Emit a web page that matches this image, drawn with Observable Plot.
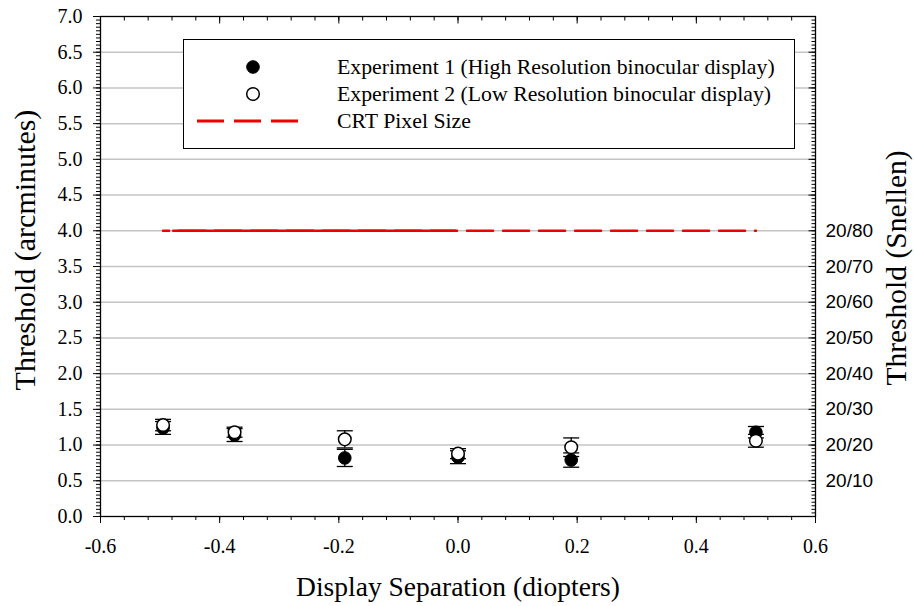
<!DOCTYPE html>
<html>
<head>
<meta charset="utf-8">
<script src="https://cdn.jsdelivr.net/npm/d3@7"></script>
<script src="https://cdn.jsdelivr.net/npm/@observablehq/plot@0.6"></script>
<style>
  html, body { margin: 0; padding: 0; background: #fff; }
  #chart { width: 914px; height: 606px; }
</style>
</head>
<body>
<div id="chart"></div>
<script>
// ---- data ----
const separations = [-0.495, -0.375, -0.19, 0.0, 0.19, 0.5];
const exp1Threshold = [1.24, 1.14, 0.82, 0.83, 0.79, 1.18];
const exp1Error = [0.09, 0.09, 0.12, 0.09, 0.10, 0.08];
const exp2Threshold = [1.28, 1.18, 1.08, 0.88, 0.97, 1.06];
const exp2Error = [0.08, 0.07, 0.12, 0.07, 0.13, 0.09];
const crtPixelSize = 4.0;
const crtRange = [-0.495, 0.5];
const crtOverlapRange = [-0.478, -0.005];

const xMajorTicks = [-0.6, -0.4, -0.2, 0.0, 0.2, 0.4, 0.6];
const yMajorTicks = [0, 0.5, 1, 1.5, 2, 2.5, 3, 3.5, 4, 4.5, 5, 5.5, 6, 6.5, 7];
const gridValues = [0.5, 1, 1.5, 2, 2.5, 3, 3.5, 4, 4.5, 5, 5.5, 6, 6.5];
const snellenValues = [4.0, 3.5, 3.0, 2.5, 2.0, 1.5, 1.0, 0.5];
const snellenLabels = ["20/80", "20/70", "20/60", "20/50", "20/40", "20/30", "20/20", "20/10"];

const legendLabels = [
  "Experiment 1 (High Resolution binocular display)",
  "Experiment 2 (Low Resolution binocular display)",
  "CRT Pixel Size"
];

// ---- derived tables ----
const exp1 = separations.map((x, i) => ({x, y: exp1Threshold[i], e: exp1Error[i]}));
const exp2 = separations.map((x, i) => ({x, y: exp2Threshold[i], e: exp2Error[i]}));
const bars = [...exp1, ...exp2];
const caps = bars.flatMap(d => [{x: d.x, y: d.y - d.e}, {x: d.x, y: d.y + d.e}]);
const crtLine = crtRange.map(x => ({x, y: crtPixelSize}));
const crtOverlap = crtOverlapRange.map(x => ({x, y: crtPixelSize}));
const snellen = snellenValues.map((y, i) => ({y, label: snellenLabels[i]}));
const xMinor = d3.range(-15, 16).map(k => k * 0.04);
const yMinor = d3.range(0, 141).map(k => k * 0.05);

// custom tick symbols (pixel-sized)
const hSeg = (a, b) => ({draw(ctx) { ctx.moveTo(a, 0); ctx.lineTo(b, 0); }});
const vSeg = (a, b) => ({draw(ctx) { ctx.moveTo(0, a); ctx.lineTo(0, b); }});

const serif = "'Liberation Serif', 'Times New Roman', serif";
const sans = "'Liberation Sans', Arial, sans-serif";

const chart = Plot.plot({
  width: 914,
  height: 606,
  marginTop: 16,
  marginRight: 99,
  marginBottom: 90,
  marginLeft: 100,
  style: {fontFamily: serif, fontSize: "20px", background: "#fff", color: "#000"},
  x: {domain: [-0.6, 0.6]},
  y: {domain: [0, 7]},
  marks: [
    // grid
    Plot.ruleY(gridValues, {stroke: "#c4c4c4", strokeWidth: 1.5}),
    // left axis
    Plot.axisY({ticks: yMajorTicks, tickFormat: d => d.toFixed(1), tickSize: 7, tickPadding: 11, label: null, fontSize: 20, fontFamily: serif}),
    Plot.axisY({ticks: yMinor, tickFormat: () => "", tickSize: 4, label: null}),
    // bottom axis
    Plot.axisX({ticks: xMajorTicks, tickFormat: d => d.toFixed(1), tickSize: 7, tickPadding: 15, label: null, fontSize: 20, fontFamily: serif}),
    Plot.axisX({ticks: xMinor, tickFormat: () => "", tickSize: 4, label: null}),
    // top inward ticks
    Plot.dot(xMajorTicks, {x: d => d, frameAnchor: "top", symbol: vSeg(0, 7), fill: "none", stroke: "black", strokeWidth: 1}),
    Plot.dot(xMinor, {x: d => d, frameAnchor: "top", symbol: vSeg(0, 4), fill: "none", stroke: "black", strokeWidth: 1}),
    // right inward ticks
    Plot.dot(yMajorTicks, {y: d => d, frameAnchor: "right", symbol: hSeg(-7, 0), fill: "none", stroke: "black", strokeWidth: 1}),
    Plot.dot(yMinor, {y: d => d, frameAnchor: "right", symbol: hSeg(-4, 0), fill: "none", stroke: "black", strokeWidth: 1}),
    // right Snellen labels
    Plot.text(snellen, {y: "y", text: "label", frameAnchor: "right", dx: 10, textAnchor: "start", fontFamily: sans, fontSize: 19, fill: "black"}),
    Plot.frame({stroke: "black", strokeWidth: 1.3}),
    // CRT pixel size line
    Plot.line(crtLine, {x: "x", y: "y", stroke: "#ee0000", strokeWidth: 2.6, strokeDasharray: "26,10", strokeDashoffset: 20}),
    Plot.line(crtOverlap, {x: "x", y: "y", stroke: "#ee0000", strokeWidth: 2.6}),
    // error bars
    Plot.ruleX(bars, {x: "x", y1: d => d.y - d.e, y2: d => d.y + d.e, stroke: "black", strokeWidth: 1.3}),
    Plot.dot(caps, {x: "x", y: "y", symbol: hSeg(-8, 8), fill: "none", stroke: "black", strokeWidth: 1.3}),
    // points
    Plot.dot(exp1, {x: "x", y: "y", r: 6.3, fill: "black", stroke: "black", strokeWidth: 1}),
    Plot.dot(exp2, {x: "x", y: "y", r: 6.3, fill: "white", stroke: "black", strokeWidth: 1.5})
  ]
});

document.getElementById("chart").appendChild(chart);

// ---- legend and axis titles ----
const svg = d3.select(chart);
const lg = svg.append("g").attr("class", "legend").attr("text-anchor", "start");
lg.append("rect").attr("x", 183.5).attr("y", 39.5).attr("width", 611).attr("height", 109)
  .attr("fill", "white").attr("stroke", "black").attr("stroke-width", 1);
const rowY = [67, 94, 121];
lg.append("circle").attr("cx", 253).attr("cy", rowY[0]).attr("r", 6.3).attr("fill", "black").attr("stroke", "black");
lg.append("circle").attr("cx", 253).attr("cy", rowY[1]).attr("r", 6.3).attr("fill", "white").attr("stroke", "black").attr("stroke-width", 1.5);
lg.append("line").attr("x1", 197).attr("x2", 299).attr("y1", rowY[2]).attr("y2", rowY[2])
  .attr("stroke", "#ee0000").attr("stroke-width", 3).attr("stroke-dasharray", "27,10");
legendLabels.forEach((t, i) => {
  lg.append("text").attr("x", 337).attr("y", rowY[i]).attr("dy", "0.33em").attr("text-anchor", "start")
    .attr("font-family", serif).attr("font-size", 21.8).attr("fill", "black").text(t);
});

svg.append("text").attr("transform", "translate(35,250) rotate(-90)").attr("text-anchor", "middle")
  .attr("font-family", serif).attr("font-size", 30).attr("fill", "black").text("Threshold (arcminutes)");
svg.append("text").attr("transform", "translate(906,268) rotate(-90)").attr("text-anchor", "middle")
  .attr("font-family", serif).attr("font-size", 29.5).attr("fill", "black").text("Threshold (Snellen)");
svg.append("text").attr("x", 458).attr("y", 596).attr("text-anchor", "middle")
  .attr("font-family", serif).attr("font-size", 27.5).attr("fill", "black").text("Display Separation (diopters)");
</script>
</body>
</html>
